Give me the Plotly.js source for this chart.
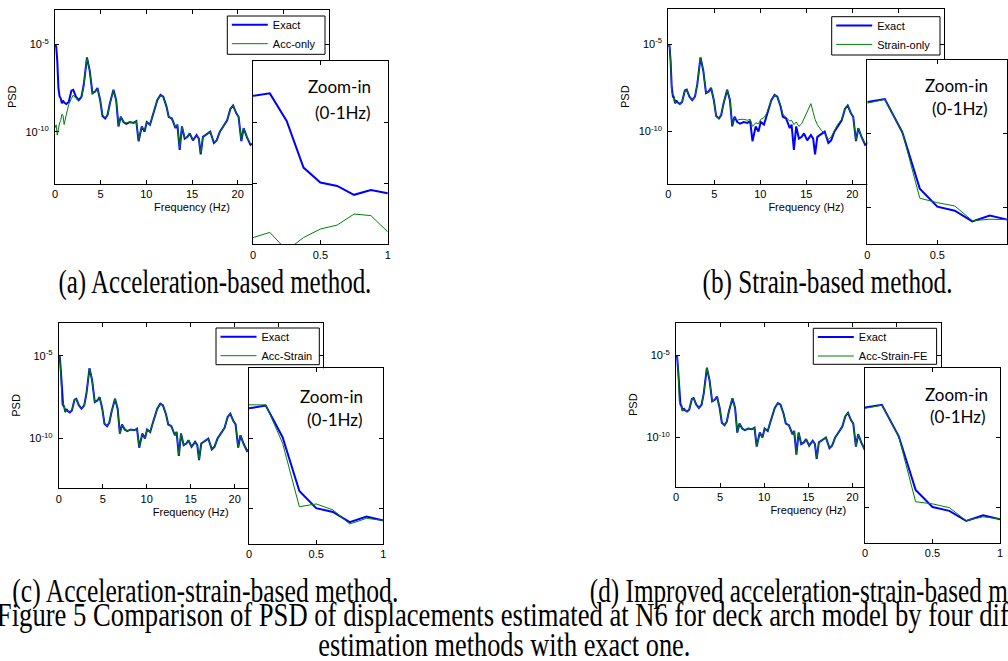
<!DOCTYPE html>
<html><head><meta charset="utf-8">
<script src="https://cdn.plot.ly/plotly-3.0.1.min.js"></script>
<style>html,body{margin:0;padding:0;background:#fff}#chart{width:1008px;height:661px}</style>
</head><body><div id="chart"></div>
<script>
// ---------------- DATA (PSD values stored as log10 exponents) ----------------
const freqHz = [0, 0.125, 0.25, 0.375, 0.5, 0.625, 0.75, 0.875, 1.0, 1.25, 1.5, 1.8, 2.0, 2.3, 2.6, 2.9, 3.15, 3.5, 3.8, 4.1, 4.4, 4.65, 4.95, 5.2, 5.5, 5.75, 6.0, 6.4, 6.7, 6.95, 7.2, 7.5, 7.8, 8.2, 8.6, 8.9, 9.15, 9.5, 9.8, 10.05, 10.4, 10.7, 11.2, 11.55, 11.85, 12.2, 12.45, 12.8, 13.2, 13.4, 13.65, 13.9, 14.2, 14.5, 14.75, 15.1, 15.5, 15.75, 15.95, 16.2, 16.65, 17.0, 17.4, 17.7, 18.05, 18.4, 18.85, 19.2, 19.5, 19.85, 20.1, 20.4, 20.65, 21.0, 21.4, 21.7, 22.0];

const exactLog10 = [-5.14, -5.06, -5.96, -7.49, -7.98, -8.09, -8.38, -8.22, -8.33, -8.42, -8.3, -7.65, -7.6, -8.0, -8.2, -8.0, -7.3, -5.75, -6.5, -7.8, -7.7, -7.5, -8.2, -9.1, -9.25, -9.05, -8.4, -7.6, -8.2, -9.7, -9.15, -9.45, -9.55, -9.45, -9.5, -9.4, -10.55, -9.7, -10.0, -9.45, -9.6, -9.05, -8.2, -7.9, -8.0, -8.55, -9.15, -9.25, -9.8, -9.6, -11.05, -9.7, -10.4, -10.3, -10.1, -10.5, -10.2, -10.4, -11.3, -10.3, -10.1, -10.0, -10.65, -10.5, -10.0, -9.7, -9.35, -8.7, -8.5, -8.95, -9.15, -10.55, -9.8, -10.3, -10.75, -10.65, -10.5];

const accOnlyLog10 = [-9.78, -9.61, -10.2, -9.78, -9.5, -9.37, -9.01, -9.06, -9.59, -9.0, -8.45, -8.1, -7.9, -8.1, -8.25, -8.05, -7.35, -5.77, -6.5, -7.8, -7.72, -7.52, -8.2, -9.05, -9.2, -9.05, -8.4, -7.62, -8.2, -9.65, -9.15, -9.45, -9.5, -9.45, -9.5, -9.4, -10.45, -9.7, -9.95, -9.45, -9.6, -9.05, -8.2, -7.92, -8.0, -8.55, -9.15, -9.25, -9.75, -9.6, -10.95, -9.7, -10.35, -10.3, -10.1, -10.45, -10.2, -10.4, -11.2, -10.3, -10.1, -10.0, -10.6, -10.5, -10.0, -9.7, -9.35, -8.72, -8.5, -8.95, -9.15, -10.5, -9.8, -10.3, -10.7, -10.65, -10.5];

const strainOnlyLog10 = [-5.17, -5.07, -5.95, -7.75, -7.87, -7.96, -8.36, -8.32, -8.33, -8.42, -8.3, -7.65, -7.6, -8.0, -8.2, -8.0, -7.3, -5.75, -6.5, -7.8, -7.7, -7.5, -8.2, -9.15, -9.25, -9.05, -8.4, -7.6, -8.2, -9.6, -9.2, -9.35, -9.3, -9.3, -9.35, -9.3, -9.7, -9.5, -9.55, -9.3, -9.2, -8.95, -8.2, -7.9, -8.0, -8.5, -9.0, -9.2, -9.4, -9.35, -9.6, -9.45, -9.7, -9.55, -9.25, -8.8, -8.4, -8.9, -9.3, -9.6, -9.95, -10.1, -10.45, -10.3, -9.9, -9.6, -9.3, -8.7, -8.5, -8.95, -9.15, -10.5, -9.8, -10.3, -10.7, -10.65, -10.5];

const accStrainLog10 = [-5.04, -5.04, -6.13, -7.94, -7.86, -8.03, -8.43, -8.27, -8.33, -8.42, -8.3, -7.65, -7.6, -8.0, -8.2, -8.0, -7.3, -5.75, -6.5, -7.8, -7.7, -7.5, -8.2, -9.1, -9.25, -9.05, -8.4, -7.6, -8.2, -9.7, -9.15, -9.45, -9.55, -9.45, -9.5, -9.4, -10.5, -9.7, -10.0, -9.45, -9.6, -9.05, -8.2, -7.9, -8.0, -8.55, -9.15, -9.25, -9.8, -9.6, -11.0, -9.7, -10.4, -10.3, -10.1, -10.5, -10.2, -10.4, -11.25, -10.3, -10.1, -10.0, -10.65, -10.5, -10.0, -9.7, -9.35, -8.7, -8.5, -8.95, -9.15, -10.55, -9.8, -10.3, -10.75, -10.65, -10.5];

const accStrainFELog10 = [-5.16, -5.07, -5.97, -7.83, -7.89, -8.0, -8.37, -8.26, -8.32, -8.42, -8.3, -7.65, -7.6, -8.0, -8.2, -8.0, -7.3, -5.75, -6.5, -7.8, -7.7, -7.5, -8.2, -9.1, -9.25, -9.05, -8.4, -7.6, -8.2, -9.7, -9.15, -9.45, -9.55, -9.45, -9.5, -9.4, -10.5, -9.7, -10.0, -9.45, -9.6, -9.05, -8.2, -7.9, -8.0, -8.55, -9.15, -9.25, -9.8, -9.6, -11.0, -9.7, -10.4, -10.3, -10.1, -10.5, -10.2, -10.4, -11.25, -10.3, -10.1, -10.0, -10.65, -10.5, -10.0, -9.7, -9.35, -8.7, -8.5, -8.95, -9.15, -10.55, -9.8, -10.3, -10.75, -10.65, -10.5];

const exactName = 'Exact';
const estimateNames = ['Acc-only', 'Strain-only', 'Acc-Strain', 'Acc-Strain-FE'];
const estimateSeries = [accOnlyLog10, strainOnlyLog10, accStrainLog10, accStrainFELog10];
const mainXTicks = [0, 5, 10, 15, 20, 25, 30];
const mainYTicks = [1e-10, 1e-5];
const mainYTickText = ['10<sup>-10</sup>', '10<sup>-5</sup>'];
const insetXTicks = [0, 0.5, 1];
const insetXTickText = ['0', '0.5', '1'];
const insetYTicks = [1e-8, 1e-6];
const xTitle = 'Frequency (Hz)';
const yTitle = 'PSD';
const zoomLine1 = 'Zoom-in';
const zoomLine2 = '(0-1Hz)';
const panelCaptions = ['(a) Acceleration-based method.', '(b) Strain-based method.', '(c) Acceleration-strain-based method.', '(d) Improved acceleration-strain-based m'];
const figureCaption1 = 'Figure 5 Comparison of PSD of displacements estimated at N6 for deck arch model by four dif';
const figureCaption2 = 'estimation methods with exact one.';

// ---------------- LAYOUT GEOMETRY (pixels) ----------------
const W = 1008, H = 661;
const px = v => v / W;
const py = v => 1 - v / H;
const panels = [
  {main: {x: [55, 329], y: [9.5, 184]}, inset: {x: [253, 387.7], y: [61, 244.3], yr: [-10, -4]},
   legendBox: [227.3, 16, 325, 54.3], z1: [372.7, 86.7, 'right'], z2: [372.7, 112.3, 'right'], cap: [215, 282, 313]},
  {main: {x: [668.3, 944.3], y: [9.3, 184]}, inset: {x: [867.3, 1007.3], y: [60, 244.3], yr: [-9, -4]},
   legendBox: [831.7, 16.7, 940, 55], z1: [990, 85, 'right'], z2: [990, 108.3, 'right'], cap: [827, 282, 250]},
  {main: {x: [58.7, 322.7], y: [322.5, 488.3]}, inset: {x: [249, 383.3], y: [368.3, 544], yr: [-9, -4]},
   legendBox: [216, 328, 319.3, 364.7], z1: [365, 396.7, 'right'], z2: [365, 419, 'right'], cap: [205, 591, 386]},
  {main: {x: [676, 940.6], y: [322.7, 486.7]}, inset: {x: [865, 1000], y: [367.7, 542.7], yr: [-9, -4]},
   legendBox: [813.3, 328.3, 936.6, 364.3], z1: [956, 395, 'center'], z2: [958, 417, 'center'], cap: [799, 591, 418]}
];
const figCap1Pos = [503, 614, 1012];
const figCap2Pos = [504, 644, 372];

const SANS = 'Liberation Sans, Arial, sans-serif';
const SERIF = 'Liberation Serif, Times New Roman, serif';
const BLUE = '#0000ff', GREEN = '#008000';

const axBase = {showline: true, linecolor: '#000', linewidth: 1, mirror: 'ticks', ticks: 'inside', ticklen: 4,
  tickcolor: '#000', tickwidth: 1, showgrid: false, zeroline: false, fixedrange: true,
  tickfont: {family: SANS, size: 11, color: '#000'}};

const pow10 = arr => arr.map(v => Math.pow(10, v));
const traces = [];
const layout = {
  width: W, height: H, margin: {l: 0, r: 0, t: 0, b: 0},
  paper_bgcolor: '#fff', plot_bgcolor: '#fff', showlegend: true, annotations: [], shapes: []
};
const squeezeWidths = {}; // annotation index -> target text width (condensed caption typeface)

panels.forEach((p, i) => {
  const mi = 2 * i + 1, ii = 2 * i + 2;
  const mx = mi === 1 ? 'x' : 'x' + mi, my = mi === 1 ? 'y' : 'y' + mi;
  const ix = 'x' + ii, iy = 'y' + ii;
  const legendId = i === 0 ? 'legend' : 'legend' + (i + 1);
  const exY = pow10(exactLog10), esY = pow10(estimateSeries[i]);

  traces.push({x: freqHz, y: exY, xaxis: mx, yaxis: my, type: 'scatter', mode: 'lines', name: exactName,
    line: {color: BLUE, width: 2}, legend: legendId});
  traces.push({x: freqHz, y: esY, xaxis: mx, yaxis: my, type: 'scatter', mode: 'lines', name: estimateNames[i],
    line: {color: GREEN, width: 1}, legend: legendId});
  traces.push({x: freqHz, y: exY, xaxis: ix, yaxis: iy, type: 'scatter', mode: 'lines', name: exactName,
    line: {color: BLUE, width: 2}, showlegend: false});
  traces.push({x: freqHz, y: esY, xaxis: ix, yaxis: iy, type: 'scatter', mode: 'lines', name: estimateNames[i],
    line: {color: GREEN, width: 1}, showlegend: false});

  const mxKey = mi === 1 ? 'xaxis' : 'xaxis' + mi, myKey = mi === 1 ? 'yaxis' : 'yaxis' + mi;
  layout[mxKey] = Object.assign({}, axBase, {
    domain: [px(p.main.x[0]), px(p.main.x[1])], anchor: my, range: [0, 30],
    tickvals: mainXTicks, ticktext: mainXTicks.map(String),
    title: {text: xTitle, font: {family: SANS, size: 11, color: '#000'}, standoff: 4}
  });
  layout[myKey] = Object.assign({}, axBase, {
    domain: [py(p.main.y[1]), py(p.main.y[0])], anchor: mx, type: 'log', range: [-13, -3],
    tickvals: mainYTicks, ticktext: mainYTickText, ticklabelstandoff: 3,
    title: {text: yTitle, font: {family: SANS, size: 11, color: '#000'}, standoff: 6}
  });
  layout['xaxis' + ii] = Object.assign({}, axBase, {
    domain: [px(p.inset.x[0]), px(p.inset.x[1])], anchor: iy, range: [0, 1],
    tickvals: insetXTicks, ticktext: insetXTickText
  });
  layout['yaxis' + ii] = Object.assign({}, axBase, {
    domain: [py(p.inset.y[1]), py(p.inset.y[0])], anchor: ix, type: 'log', range: p.inset.yr,
    tickvals: insetYTicks, showticklabels: false
  });
  const b = p.legendBox;
  layout.shapes.push({type: 'rect', xref: 'paper', yref: 'paper', x0: px(b[0]), x1: px(b[2]), y0: py(b[3]), y1: py(b[1]),
    line: {color: '#000', width: 1}, fillcolor: '#fff', layer: 'above'});
  layout[legendId] = {
    x: px(b[0] - 0.5), y: py(b[1] - 5.8), xanchor: 'left', yanchor: 'top',
    bgcolor: 'rgba(0,0,0,0)', borderwidth: 0, traceorder: 'normal',
    font: {family: SANS, size: 11, color: '#000'}, tracegroupgap: 0, itemwidth: 36
  };
  layout.annotations.push(
    {xref: 'paper', yref: 'paper', x: px(p.z1[0]), y: py(p.z1[1]), xanchor: p.z1[2], yanchor: 'middle',
     text: zoomLine1, showarrow: false, font: {family: 'Lato, Open Sans, sans-serif', size: 17, color: '#000'}},
    {xref: 'paper', yref: 'paper', x: px(p.z2[0]), y: py(p.z2[1]), xanchor: p.z2[2], yanchor: 'middle',
     text: zoomLine2, showarrow: false, font: {family: 'Lato, Open Sans, sans-serif', size: 17, color: '#000'}}
  );
  squeezeWidths[layout.annotations.length] = p.cap[2];
  layout.annotations.push(
    {xref: 'paper', yref: 'paper', x: px(p.cap[0]), y: py(p.cap[1]), xanchor: 'center', yanchor: 'middle',
     text: panelCaptions[i], showarrow: false, font: {family: SERIF, size: 34, color: '#000'}}
  );
});

squeezeWidths[layout.annotations.length] = figCap1Pos[2];
layout.annotations.push({xref: 'paper', yref: 'paper', x: px(figCap1Pos[0]), y: py(figCap1Pos[1]), xanchor: 'center', yanchor: 'middle',
   text: figureCaption1, showarrow: false, font: {family: SERIF, size: 34, color: '#000'}});
squeezeWidths[layout.annotations.length] = figCap2Pos[2];
layout.annotations.push({xref: 'paper', yref: 'paper', x: px(figCap2Pos[0]), y: py(figCap2Pos[1]), xanchor: 'center', yanchor: 'middle',
   text: figureCaption2, showarrow: false, font: {family: SERIF, size: 34, color: '#000'}});

Plotly.newPlot('chart', traces, layout, {displayModeBar: false, staticPlot: true}).then(gd => {
  // the caption typeface in the reference is a horizontally condensed Times: squeeze the real text to its width
  gd.querySelectorAll('g.annotation').forEach(g => {
    const idx = +g.getAttribute('data-index');
    if (squeezeWidths[idx] === undefined) return;
    const t = g.querySelector('text.annotation-text');
    if (!t) return;
    t.setAttribute('textLength', squeezeWidths[idx]);
    t.setAttribute('lengthAdjust', 'spacingAndGlyphs');
  });
});
</script>
</body></html>
